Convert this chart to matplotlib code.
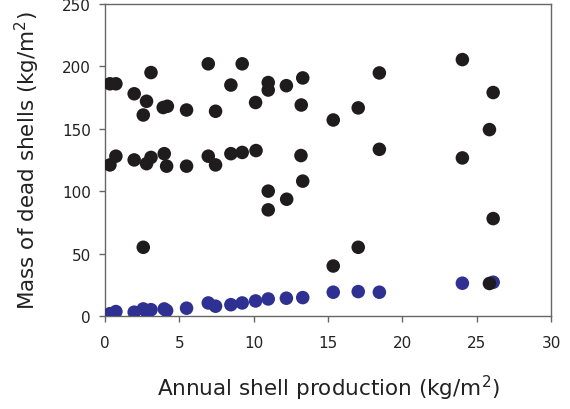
import numpy as np
import matplotlib
matplotlib.use("Agg")
from matplotlib import pyplot as plt

plt.rcParams['font.family'] = ['DejaVu Sans']
plt.rcParams['mathtext.default'] = 'regular'

# dead shells (black)
dead_x = [0.34, 0.74, 1.97, 2.8, 3.1, 2.58, 3.92, 4.2, 5.49, 6.95, 7.44, 8.47, 9.23, 10.13,
          10.98, 10.98, 12.2, 13.3, 13.2, 15.35,
          0.34, 0.74, 1.97, 2.8, 3.1, 3.99, 4.15, 5.49, 6.95, 7.44, 8.47, 9.23, 10.16,
          10.98, 10.98, 12.22, 13.18, 13.3, 2.58, 15.35,
          24.03, 18.45, 26.1, 17.03, 25.85, 18.45, 24.03, 26.1, 17.03, 25.85]
dead_y = [186, 186, 178, 172, 195, 161, 167, 168, 165, 202, 164, 185, 202, 171,
          187, 181, 184.5, 190.7, 169, 157,
          121, 128, 125, 122, 127, 130, 120, 120, 128, 121, 130, 131, 132.5,
          100, 85, 93.5, 128.5, 108, 55, 40,
          205.4, 194.7, 179, 166.7, 149.3, 133.5, 126.6, 78, 55, 26]

# annual production (blue)
prod_x = [0.34, 0.74, 1.97, 2.58, 2.8, 3.1, 3.99, 4.15, 5.49, 6.95, 7.44, 8.47, 9.23,
          10.13, 10.98, 12.2, 13.3, 15.35, 17.03, 18.45, 24.03, 26.1]
prod_y = [1.8, 3.5, 3, 5.6, 3.5, 5, 5.6, 4.3, 6.2, 10.4, 7.8, 9, 10.4,
          12, 13.6, 14.2, 14.7, 19, 19.5, 19, 26.2, 27]

fig = plt.figure(figsize=(5.7, 4.1), dpi=100)
ax = fig.add_axes([0.184, 0.227, 0.783, 0.761])

ax.scatter(prod_x, prod_y, s=95, color='#2e3192', edgecolors='none', zorder=3)
ax.scatter(dead_x, dead_y, s=95, color='#1f1c1d', edgecolors='none', zorder=4)

ax.set_xlim(0, 30)
ax.set_ylim(0, 250)
ax.set_xticks(np.arange(0, 31, 5))
ax.set_yticks(np.arange(0, 251, 50))
for s in ax.spines.values():
    s.set_color('#666666')
    s.set_linewidth(1.0)
ax.tick_params(direction='out', length=4, width=1, colors='#666666',
               labelcolor='#222222', labelsize=11)
ax.tick_params(axis='x', pad=10)
ax.tick_params(axis='y', pad=6)

ax.set_xlabel('Annual shell production (kg/m$^2$)', fontsize=15.5, color='#222222')
ax.set_ylabel('Mass of dead shells (kg/m$^2$)', fontsize=15.5, color='#222222')
ax.xaxis.set_label_coords(0.5, -0.2276)
ax.xaxis.label.set_va('center')
ax.yaxis.set_label_coords(-0.1726, 0.5)
ax.yaxis.label.set_va('center')

fig.savefig('out.png', dpi=100)
